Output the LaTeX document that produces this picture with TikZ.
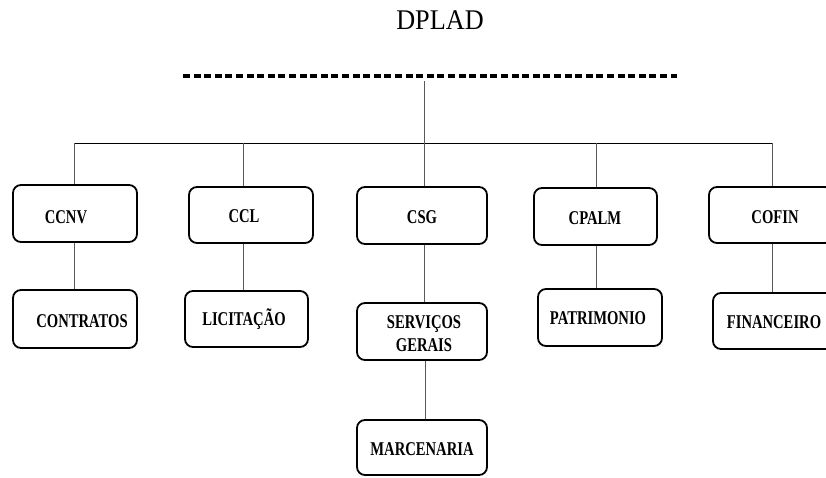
\documentclass[tikz,border=0pt]{standalone}
\usepackage{fontspec}
\newfontfamily\boxfont{Liberation Serif}[FakeStretch=0.75]
\newfontfamily\titlefont{Liberation Serif}[FakeStretch=0.92]
\begin{document}
\begin{tikzpicture}[x=1pt,y=-1pt,
  box/.style={draw=black, line width=1.8pt, rounded corners=8pt, inner sep=0pt},
  lbl/.style={anchor=base, inner sep=0pt, align=center, font=\boxfont\bfseries\fontsize{19.5}{23}\selectfont},
  conn/.style={draw=black!65, line width=0.9pt},
  bus/.style={draw=black, line width=1pt}]
\useasboundingbox (0,0) rectangle (826,477);
\clip (0,0) rectangle (826,477);
% title
\node[anchor=base, inner sep=0pt, font=\titlefont\fontsize{28.5}{30}\selectfont] (title) at (440,29) {DPLAD};
% dashed bar
\coordinate (dl) at (183,76);
\coordinate (dr) at (677,76);
\draw[line width=3.2pt, dash pattern=on 7pt off 3.6pt] (dl) -- (dr);
% top level boxes
\node[box, minimum width=124pt, minimum height=57pt] (ccnv) at (75,213.5) {};
\node[box, minimum width=124pt, minimum height=56pt] (ccl) at (251,215) {};
\node[box, minimum width=130pt, minimum height=57pt] (csg) at (422,215.5) {};
\node[box, minimum width=123pt, minimum height=57pt] (cpalm) at (595.5,216.5) {};
\node[box, minimum width=124pt, minimum height=56pt] (cofin) at (771,215) {};
% second level
\node[box, minimum width=124pt, minimum height=58pt] (contratos) at (75,319) {};
\node[box, minimum width=123pt, minimum height=56pt] (licitacao) at (246.5,319) {};
\node[box, minimum width=130pt, minimum height=57pt] (servicos) at (422,331.5) {};
\node[box, minimum width=124pt, minimum height=57pt] (patrimonio) at (600,317.5) {};
\node[box, minimum width=124pt, minimum height=56pt] (financeiro) at (775,321) {};
\node[box, minimum width=130pt, minimum height=55pt] (marcenaria) at (422,447.5) {};
% labels
\node[lbl] (tccnv) at (66,223.5) {CCNV};
\node[lbl] (tccl) at (244,222.5) {CCL};
\node[lbl] (tcsg) at (422,223.5) {CSG};
\node[lbl] (tcpalm) at (595,224.5) {CPALM};
\node[lbl] (tcofin) at (775,223.5) {COFIN};
\node[lbl] (tcontratos) at (82,327.5) {CONTRATOS};
\node[lbl] (tlicitacao) at (244,325) {LICITAÇÃO};
\node[lbl] (tservicos) at (424,351.5) {SERVIÇOS\\GERAIS};
\node[lbl] (tpatrimonio) at (598,324.5) {PATRIMONIO};
\node[lbl] (tfinanceiro) at (774,328.5) {FINANCEIRO};
\node[lbl] (tmarcenaria) at (422,455.5) {MARCENARIA};
% bus coordinates
\coordinate (stem) at (424,81);
\coordinate (b1) at (74,143);
\coordinate (b2) at (243,143);
\coordinate (b3) at (424,143);
\coordinate (b4) at (596,143);
\coordinate (b5) at (772,143);
\coordinate (s5) at (425,0);
% connectors
\draw[conn] (stem) -- (b3);
\draw[bus] (b1) -- (b5);
\draw[conn] (b1) -- (ccnv.north -| b1);
\draw[conn] (b2) -- (ccl.north -| b2);
\draw[conn] (b3) -- (csg.north -| b3);
\draw[conn] (b4) -- (cpalm.north -| b4);
\draw[conn] (b5) -- (cofin.north -| b5);
\draw[conn] (ccnv.south -| b1) -- (contratos.north -| b1);
\draw[conn] (ccl.south -| b2) -- (licitacao.north -| b2);
\draw[conn] (csg.south -| b3) -- (servicos.north -| b3);
\draw[conn] (servicos.south -| s5) -- (marcenaria.north -| s5);
\draw[conn] (cpalm.south -| b4) -- (patrimonio.north -| b4);
\draw[conn] (cofin.south -| b5) -- (financeiro.north -| b5);
\end{tikzpicture}
\end{document}
